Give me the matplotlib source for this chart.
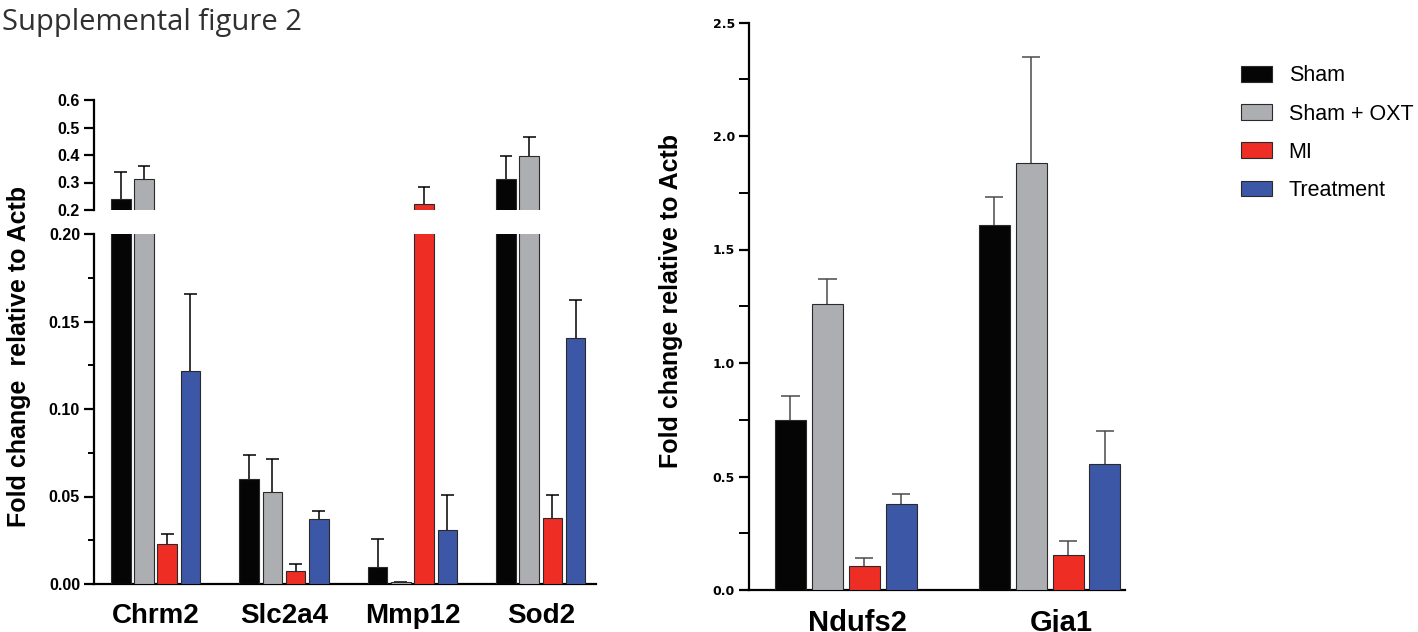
import numpy as np
import matplotlib.pyplot as plt
import matplotlib.transforms as mtransforms
from matplotlib.patches import Patch

# ---- data ----
groups = ['Sham', 'Sham + OXT', 'MI', 'Treatment']
colors = ['#050505', '#adaeb2', '#ee2d24', '#3b57a6']

genes_left = ['Chrm2', 'Slc2a4', 'Mmp12', 'Sod2']
left_mean = {
    'Sham':       [0.239, 0.0602, 0.0098, 0.312],
    'Sham + OXT': [0.311, 0.0525, 0.0010, 0.397],
    'MI':         [0.0228, 0.0077, 0.221, 0.0375],
    'Treatment':  [0.1217, 0.0372, 0.0307, 0.1406],
}
left_top = {
    'Sham':       [0.338, 0.0739, 0.0255, 0.397],
    'Sham + OXT': [0.360, 0.0715, 0.0013, 0.467],
    'MI':         [0.0284, 0.0113, 0.282, 0.051],
    'Treatment':  [0.1657, 0.0416, 0.051, 0.1623],
}

genes_right = ['Ndufs2', 'Gja1']
right_mean = {
    'Sham':       [0.748, 1.610],
    'Sham + OXT': [1.261, 1.881],
    'MI':         [0.104, 0.156],
    'Treatment':  [0.377, 0.557],
}
right_top = {
    'Sham':       [0.853, 1.730],
    'Sham + OXT': [1.371, 2.346],
    'MI':         [0.142, 0.218],
    'Treatment':  [0.421, 0.699],
}

plt.rcParams['font.family'] = ['Liberation Sans', 'DejaVu Sans']

W, H = 1418, 632
fig = plt.figure(figsize=(W / 100, H / 100), dpi=100)

def box(x0, y0, x1, y1):
    # pixel box (top-left origin) -> figure fraction
    return [x0 / W, 1 - y1 / H, (x1 - x0) / W, (y1 - y0) / H]

width = 0.152
pitch = 0.181
offsets = (np.arange(4) - 1.5) * pitch


def draw_bars(ax, genes, means, tops, ecolor, cap):
    # bars plus upper-only error bars (stem + cap)
    x = np.arange(len(genes))
    for i, g in enumerate(groups):
        xi = x + offsets[i]
        m = np.array(means[g])
        t = np.array(tops[g])
        ax.bar(xi, m, width, color=colors[i], edgecolor='#2a2a2a',
               linewidth=0.8, zorder=3)
        ax.vlines(xi, m, t, color=ecolor, linewidth=1.1, zorder=2)
        ax.hlines(t, xi - cap, xi + cap, color=ecolor, linewidth=1.1, zorder=2)


# ---- left panel, broken y-axis ----
ax_lo = fig.add_axes(box(94, 234, 596, 584))
ax_hi = fig.add_axes(box(94, 100, 596, 210))
for ax in (ax_lo, ax_hi):
    draw_bars(ax, genes_left, left_mean, left_top, 'black', 0.05)
    ax.set_xlim(-0.48, 3.43)
    for s in ('top', 'right'):
        ax.spines[s].set_visible(False)
    ax.spines['left'].set_linewidth(1.6)
    ax.tick_params(axis='y', which='major', length=7, width=1.6, pad=3, labelsize=11.5)
    ax.tick_params(axis='y', which='minor', length=4, width=1.4)

ax_lo.set_ylim(0, 0.2)
ax_lo.set_yticks([0, 0.05, 0.10, 0.15, 0.20])
ax_lo.set_yticklabels(['0.00', '0.05', '0.10', '0.15', '0.20'], fontweight='bold')
ax_lo.set_yticks([0.025, 0.075, 0.125, 0.175], minor=True)
ax_lo.spines['bottom'].set_linewidth(1.6)
ax_lo.set_xticks(np.arange(len(genes_left)))
ax_lo.set_xticklabels(genes_left, fontsize=20, fontweight='bold')
ax_lo.tick_params(axis='x', length=0, pad=14)
ax_lo.set_ylabel('Fold change  relative to Actb', fontsize=18, fontweight='bold')
ax_lo.yaxis.set_label_coords(-0.125, 0.65)

ax_hi.set_ylim(0.2, 0.6)
ax_hi.set_yticks([0.2, 0.3, 0.4, 0.5, 0.6])
ax_hi.set_yticklabels(['0.2', '0.3', '0.4', '0.5', '0.6'], fontweight='bold')
ax_hi.spines['bottom'].set_visible(False)
ax_hi.set_xticks([])

# ---- right panel ----
ax_r = fig.add_axes(box(749, 22.5, 1125, 590))
draw_bars(ax_r, genes_right, right_mean, right_top, '#4a4a4a', 0.045)
ax_r.set_xlim(-0.475, 1.37)
ax_r.set_ylim(0, 2.5)
for s in ('top', 'right'):
    ax_r.spines[s].set_visible(False)
ax_r.spines['left'].set_linewidth(1.6)
ax_r.spines['bottom'].set_linewidth(1.6)
ax_r.set_yticks([0, 0.5, 1.0, 1.5, 2.0, 2.5])
ax_r.set_yticklabels(['0.0', '0.5', '1.0', '1.5', '2.0', '2.5'],
                     family='DejaVu Sans', fontweight='bold', fontsize=9)
ax_r.set_yticks([0.25, 0.75, 1.25, 1.75, 2.25], minor=True)
ax_r.tick_params(axis='y', which='major', length=7, width=1.6, pad=3)
ax_r.tick_params(axis='y', which='minor', length=7, width=1.4)
ax_r.set_xticks(np.arange(len(genes_right)))
ax_r.set_xticklabels(genes_right, fontsize=21, fontweight='bold')
ax_r.tick_params(axis='x', length=0, pad=14)
shift = mtransforms.ScaledTranslation(12 / 100, 0, fig.dpi_scale_trans)
for lab in ax_r.get_xticklabels():
    lab.set_transform(lab.get_transform() + shift)
ax_r.set_ylabel('Fold change relative to Actb', fontsize=18, fontweight='bold')
ax_r.yaxis.set_label_coords(-0.175, 0.51)

# ---- legend ----
handles = [Patch(facecolor=c, edgecolor='#2a2a2a', linewidth=0.8) for c in colors]
fig.legend(handles, groups, loc='upper left', bbox_to_anchor=(1222 / W, 1 - 46 / H),
           frameon=False, fontsize=15.5, handlelength=1.4, handleheight=0.75,
           handletextpad=0.8, labelspacing=0.8)

fig.text(2 / W, 1 - 30 / H, 'Supplemental figure 2', family='Open Sans', fontsize=21,
         color='#303030', ha='left', va='baseline')

fig.savefig('out.png', dpi=100)
